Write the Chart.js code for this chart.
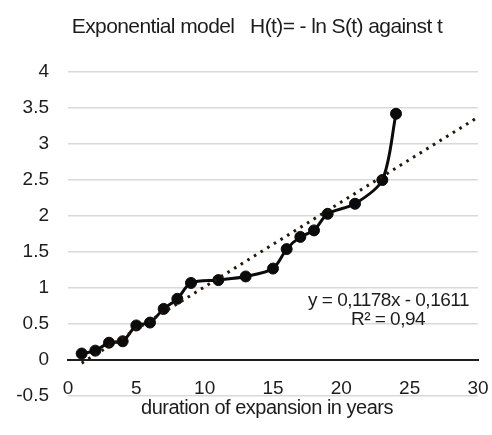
<!DOCTYPE html>
<html>
<head>
<meta charset="utf-8">
<script src="https://cdn.jsdelivr.net/npm/chart.js@4.4.1/dist/chart.umd.min.js"></script>
<style>
  html, body { margin: 0; padding: 0; background: #ffffff; }
</style>
</head>
<body>
<canvas id="hazardChart" width="492" height="435"></canvas>
<script>
// duration of expansion (years) and cumulative hazard H(t) = -ln S(t)
const durations = [1, 2, 3, 4, 5, 6, 7, 8, 9, 11, 13, 15, 16, 17, 18, 19, 21, 23, 24];
const hazard = [0.09, 0.13, 0.24, 0.26, 0.48, 0.52, 0.71, 0.85, 1.07, 1.11, 1.16, 1.27, 1.54, 1.71, 1.80, 2.03, 2.17, 2.50, 3.42];

// linear trend fitted in the spreadsheet
const trendSlope = 0.1178;
const trendIntercept = -0.1611;
const trendRange = [1, 30];
const rSquared = 0.94;

const xTicks = [0, 5, 10, 15, 20, 25, 30];
const yTicks = [-0.5, 0, 0.5, 1, 1.5, 2, 2.5, 3, 3.5, 4];

const FONT = '"Liberation Sans", Arial, sans-serif';
const INK = "#1c1c1c";

const comma = v => String(v).replace(".", ",");
const trendPoints = trendRange.map(x => ({ x: x, y: trendSlope * x + trendIntercept }));

const textPlugin = {
    id: "chartText",
    afterDraw(chart) {
        const ctx = chart.ctx;
        ctx.save();
        ctx.fillStyle = INK;
        ctx.textBaseline = "alphabetic";

        ctx.letterSpacing = "-0.6px";
        ctx.font = "21px " + FONT;
        ctx.textAlign = "center";
        ctx.fillText("Exponential model   H(t)= - ln S(t) against t", 257, 33);

        ctx.letterSpacing = "-0.5px";
        ctx.font = "20px " + FONT;
        ctx.fillText("duration of expansion in years", 267, 414);

        // trendline label
        ctx.letterSpacing = "-0.5px";
        ctx.font = "19px " + FONT;
        ctx.textAlign = "right";
        const sign = trendIntercept < 0 ? " - " : " + ";
        ctx.fillText("y = " + comma(trendSlope) + "x" + sign + comma(Math.abs(trendIntercept)), 469, 306);
        ctx.textAlign = "center";
        ctx.fillText("R² = " + comma(rSquared), 388, 325);
        ctx.restore();
    }
};

new Chart(document.getElementById("hazardChart"), {
    type: "scatter",
    data: {
        datasets: [
            {
                label: "Linear trend",
                data: trendPoints,
                showLine: true,
                borderColor: "#24160b",
                borderWidth: 3,
                borderDash: [2.6, 5.2],
                pointRadius: 0,
                order: 0
            },
            {
                label: "H(t)",
                data: durations.map((t, i) => ({ x: t, y: hazard[i] })),
                showLine: true,
                borderColor: "#0b0b0b",
                backgroundColor: "#0b0b0b",
                borderWidth: 3,
                pointRadius: 5.5,
                pointBorderWidth: 1,
                tension: 0.3,
                order: 1
            }
        ]
    },
    options: {
        responsive: false,
        devicePixelRatio: 1,
        animation: false,
        layout: {
            padding: { left: 0, right: 14, top: 72, bottom: 39 }
        },
        plugins: {
            legend: { display: false },
            tooltip: { enabled: false },
            title: { display: false }
        },
        scales: {
            x: {
                type: "linear",
                min: 0,
                max: 30,
                position: { y: 0 },
                afterBuildTicks: s => { s.ticks = xTicks.map(v => ({ value: v })); },
                afterFit: s => { s.paddingLeft = 0; s.paddingRight = 0; },
                grid: { display: false, drawTicks: false },
                border: { display: true, color: "#1f1f1f", width: 2 },
                ticks: {
                    padding: 17,
                    color: INK,
                    font: { family: FONT, size: 19 },
                    callback: v => String(v)
                }
            },
            y: {
                type: "linear",
                min: -0.5,
                max: 4,
                afterBuildTicks: s => { s.ticks = yTicks.map(v => ({ value: v })); },
                afterFit: s => { s.width = 68; },
                grid: {
                    color: c => (c.tick && c.tick.value === 0 ? "rgba(0,0,0,0)" : "#d9d9d9"),
                    lineWidth: 1.5,
                    drawTicks: false
                },
                border: { display: false },
                ticks: {
                    padding: 19,
                    color: INK,
                    font: { family: FONT, size: 19 },
                    callback: v => String(v)
                }
            }
        }
    },
    plugins: [textPlugin]
});
</script>
</body>
</html>
